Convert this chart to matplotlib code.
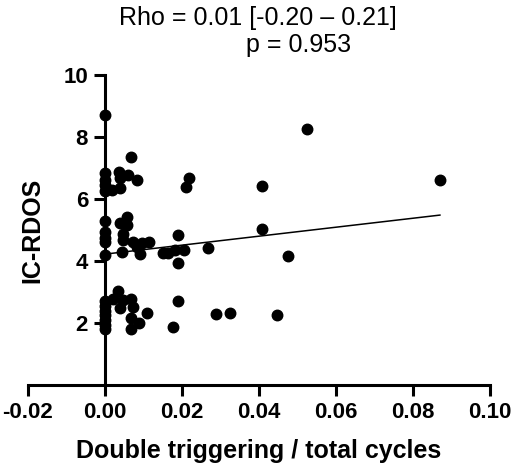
import numpy as np
import matplotlib
matplotlib.use("Agg")
import matplotlib.pyplot as plt

plt.rcParams['font.family'] = ['Liberation Sans', 'DejaVu Sans']

# Double triggering / total cycles vs IC-RDOS
x_vals = [0.0, 0.0, 0.0, 0.0, 0.0, 0.0, 0.0, 0.0, 0.0, 0.0,
          0.0, 0.0, 0.0, 0.0, 0.0, 0.0, 0.0,
          0.0068, 0.0037, 0.0060, 0.0083, 0.0040, 0.0018, 0.0040,
          0.0219, 0.0210, 0.0524, 0.0870, 0.0409, 0.0409,
          0.0059, 0.0040, 0.0059, 0.0047, 0.0048, 0.0074, 0.0096,
          0.0116, 0.0083, 0.0044, 0.0092, 0.0152, 0.0163, 0.0189,
          0.0183, 0.0207, 0.0190, 0.0267, 0.0475,
          0.0034, 0.0022, 0.0047, 0.0068, 0.0040, 0.0073, 0.0109,
          0.0068, 0.0090, 0.0068, 0.0189, 0.0177, 0.0289, 0.0325, 0.0448]
y_vals = [8.70, 6.85, 6.60, 6.45, 6.25, 5.30, 4.95, 4.75, 4.60, 4.20,
          2.70, 2.55, 2.40, 2.25, 2.10, 1.95, 1.80,
          7.34, 6.88, 6.77, 6.61, 6.67, 6.29, 6.35,
          6.68, 6.38, 8.26, 6.60, 6.43, 5.02,
          5.43, 5.21, 5.16, 4.86, 4.68, 4.62, 4.57,
          4.60, 4.46, 4.30, 4.22, 4.25, 4.25, 4.84,
          4.35, 4.35, 3.95, 4.43, 4.17,
          3.04, 2.76, 2.74, 2.76, 2.47, 2.51, 2.33,
          2.15, 1.99, 1.80, 2.71, 1.88, 2.30, 2.31, 2.26]

# regression line ends
fit_x = [0.0, 0.087]
fit_y = [4.22, 5.48]

x_ticks = [-0.02, 0.00, 0.02, 0.04, 0.06, 0.08, 0.10]
y_ticks = [2, 4, 6, 8, 10]

fig = plt.figure(figsize=(5.14, 4.68), dpi=100)
ax = fig.add_axes([0.0539, 0.1774, 0.8994, 0.6624])

ax.scatter(x_vals, y_vals, s=57, color='black', zorder=3, clip_on=False)
ax.plot(fit_x, fit_y, color='black', linewidth=1.1, zorder=2)

ax.set_xlim(-0.02, 0.10)
ax.set_ylim(0, 10)
ax.set_xticks(x_ticks)
ax.set_xticklabels([f"{t:.2f}" for t in x_ticks])
ax.set_yticks(y_ticks)

ax.spines['top'].set_visible(False)
ax.spines['right'].set_visible(False)
ax.spines['left'].set_position(('data', 0))
for s in ['left', 'bottom']:
    ax.spines[s].set_linewidth(2.2)
ax.tick_params(width=2.2, length=8, labelsize=16, pad=4)
for lab in ax.get_xticklabels() + ax.get_yticklabels():
    lab.set_fontweight('bold')

ax.set_xlabel("Double triggering / total cycles", fontsize=18, fontweight='bold', labelpad=12)
ax.set_ylabel("IC-RDOS", fontsize=18, fontweight='bold')
ax.yaxis.set_label_coords(0.037, 0.5)

fig.text(258 / 514, (468 - 25) / 468, "Rho = 0.01 [-0.20 \u2013 0.21]", fontsize=18,
         ha='center', va='baseline')
fig.text(246 / 514, (468 - 52) / 468, "p = 0.953", fontsize=18, ha='left', va='baseline')

fig.savefig("out.png", dpi=100)
